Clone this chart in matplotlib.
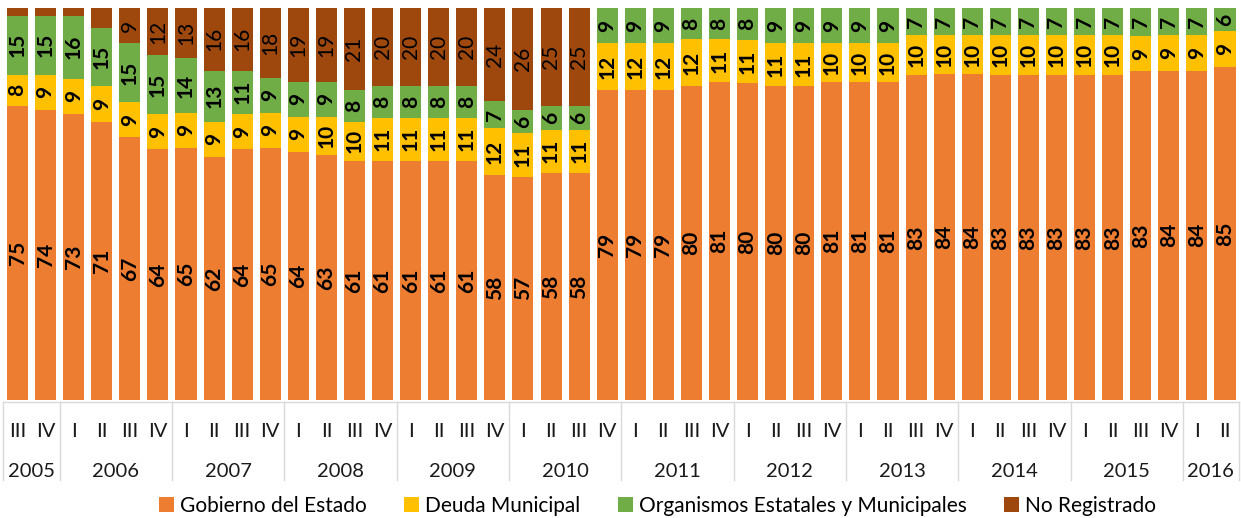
import numpy as np
import matplotlib
matplotlib.use('Agg')
import matplotlib.pyplot as plt
from matplotlib.patches import Patch

plt.rcParams['font.family'] = ['Lato', 'DejaVu Sans']

# trimestres, 2005 III a 2016 II
quarters = ['III', 'IV'] + ['I', 'II', 'III', 'IV'] * 10 + ['I', 'II']
years = ['2005', '2006', '2007', '2008', '2009', '2010',
         '2011', '2012', '2013', '2014', '2015', '2016']
year_counts = [2, 4, 4, 4, 4, 4, 4, 4, 4, 4, 4, 2]

gobierno = [75, 74, 73, 71, 67, 64, 65, 62, 64, 65, 64, 63, 61, 61, 61, 61,
            61, 58, 57, 58, 58, 79, 79, 79, 80, 81, 80, 80, 80, 81, 81, 81,
            83, 84, 84, 83, 83, 83, 83, 83, 83, 84, 84, 85]
deuda_mun = [8, 9, 9, 9, 9, 9, 9, 9, 9, 9, 9, 10, 10, 11, 11, 11,
             11, 12, 11, 11, 11, 12, 12, 12, 12, 11, 11, 11, 11, 10, 10, 10,
             10, 10, 10, 10, 10, 10, 10, 10, 9, 9, 9, 9]
organismos = [15, 15, 16, 15, 15, 15, 14, 13, 11, 9, 9, 9, 8, 8, 8, 8,
              8, 7, 6, 6, 6, 9, 9, 9, 8, 8, 8, 9, 9, 9, 9, 9,
              7, 7, 7, 7, 7, 7, 7, 7, 7, 7, 7, 6]
no_registrado = [2, 2, 2, 5, 9, 12, 13, 16, 16, 18, 19, 19, 21, 20, 20, 20,
                 20, 24, 26, 25, 25, 0, 0, 0, 0, 0, 0, 0, 0, 0, 0, 0,
                 0, 0, 0, 0, 0, 0, 0, 0, 0, 0, 0, 0]

names = ['Gobierno del Estado', 'Deuda Municipal',
         'Organismos Estatales y Municipales', 'No Registrado']
colors = ['#ED7D31', '#FFC000', '#70AD47', '#9E480E']

data = np.array([gobierno, deuda_mun, organismos, no_registrado], dtype=float)
pct = data / data.sum(axis=0) * 100  # barras al 100%
x = np.arange(len(quarters))

fig = plt.figure(figsize=(12.41, 5.18), dpi=100)
ax = fig.add_axes([0.0028, 0.2278, 0.9956, 0.7568])

bottom = np.zeros(len(x))
for k in range(4):
    ax.bar(x, pct[k], 0.75, bottom=bottom, color=colors[k], linewidth=0)
    for i in range(len(x)):
        if data[k, i] >= 6:
            ax.text(x[i], bottom[i] + pct[k, i] / 2, str(int(data[k, i])),
                    rotation=90, ha='center', va='center', fontsize=15,
                    fontweight='normal' if k == 3 else 'bold', color='black')
    bottom += pct[k]

ax.set_xlim(-0.5, len(x) - 0.5)
ax.set_ylim(0, 100)
for s in ax.spines.values():
    s.set_visible(False)
ax.set_yticks([])
ax.set_xticks([])

tr = ax.get_xaxis_transform()
ax.plot([-0.5, len(x) - 0.5], [-0.005, -0.005], color='#D9D9D9', lw=1,
        transform=tr, clip_on=False)
for i, q in enumerate(quarters):
    ax.text(i, -0.08, q, ha='center', va='center', fontsize=14.5,
            color='#1a1a1a', transform=tr)

start = 0
edges = [-0.5]
for yr, n in zip(years, year_counts):
    ax.text(start + (n - 1) / 2, -0.183, yr, ha='center', va='center',
            fontsize=14.5, color='#1a1a1a', transform=tr)
    start += n
    edges.append(start - 0.5)
for e in edges:
    ax.plot([e, e], [-0.005, -0.204], color='#D9D9D9', lw=1,
            transform=tr, clip_on=False)

handles = [Patch(facecolor=c, edgecolor='none') for c in colors]
fig.legend(handles, names, loc='center', bbox_to_anchor=(0.53, 0.024),
           ncol=4, frameon=False, fontsize=15, handlelength=0.7,
           handleheight=0.7, handletextpad=0.3, columnspacing=1.8)

fig.savefig('out.png', dpi=100)
